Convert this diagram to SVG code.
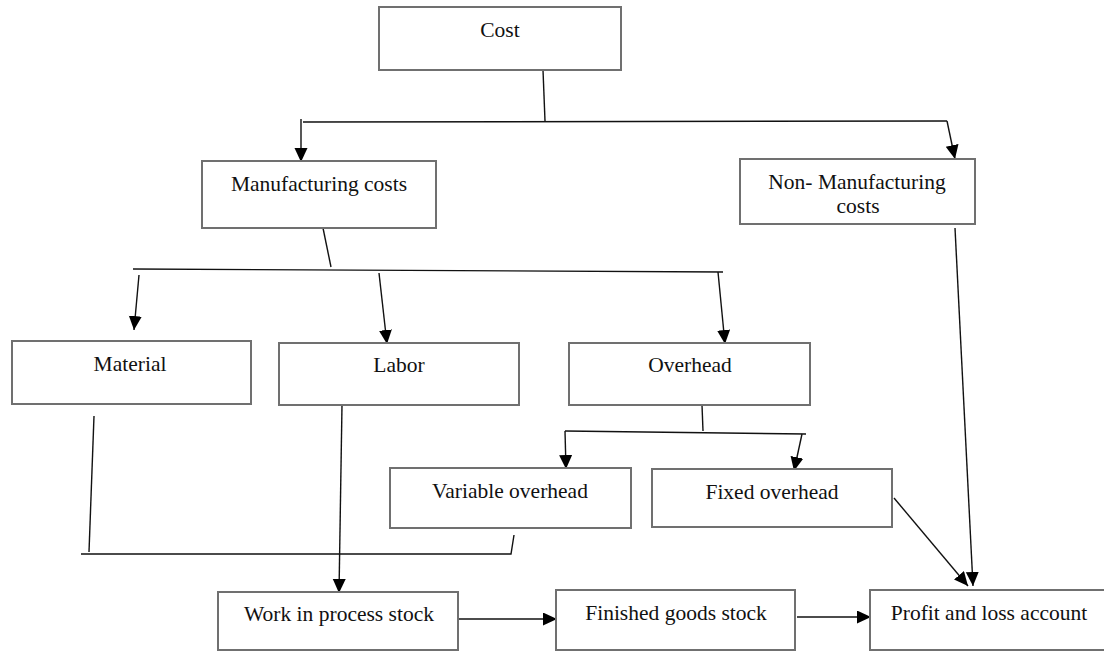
<svg xmlns="http://www.w3.org/2000/svg" width="1104" height="652" viewBox="0 0 1104 652">
<defs>
<style>
.box{fill:#fff;stroke:#707070;stroke-width:2}
.t{font-family:"Liberation Serif","Times New Roman",serif;font-size:21.5px;fill:#111;text-anchor:middle}
.c{fill:none;stroke:#111;stroke-width:1.4}
.a{fill:none;stroke:#111;stroke-width:1.4;marker-end:url(#ah)}
</style>
<marker id="ah" markerUnits="userSpaceOnUse" markerWidth="14" markerHeight="14" viewBox="0 0 14 14" refX="14" refY="6.5" orient="auto">
<path d="M0,0 L14,6.5 L0,13 Z" fill="#000"/>
</marker>
</defs>
<rect width="1104" height="652" fill="#fff"/>
<g id="connectors">
<path class="c" d="M543,70 L545,121"/>
<path class="c" d="M303,122 L947,121"/>
<path class="a" d="M301,119 L301,162"/>
<path class="a" d="M947,121 L955,159"/>
<path class="c" d="M323,228 L331,267"/>
<path class="c" d="M133,269 L723,272"/>
<path class="a" d="M139,275 L134,330"/>
<path class="a" d="M379,273 L387,344"/>
<path class="a" d="M718,272 L725,344"/>
<path class="c" d="M702,405 L703,431"/>
<path class="c" d="M565,431 L806,434"/>
<path class="a" d="M565,431 L566,469"/>
<path class="a" d="M802,434 L794,471"/>
<path class="c" d="M94,416 L89,552"/>
<path class="c" d="M81,554 L511,554 L514,535"/>
<path class="a" d="M342,405 L339,593"/>
<path class="a" d="M458,619 L557,619"/>
<path class="a" d="M797,617 L871,617"/>
<path class="a" d="M894,498 L968,586"/>
<path class="a" d="M955,228 L973,586"/>
</g>
<g id="cost"><rect class="box" x="379" y="7" width="242" height="63"/><text class="t" x="500" y="37">Cost</text></g>
<g id="manufacturing"><rect class="box" x="202" y="161" width="234" height="67"/><text class="t" x="319" y="191">Manufacturing costs</text></g>
<g id="nonmanufacturing"><rect class="box" x="740" y="159" width="235" height="65"/><text class="t" x="857" y="189">Non- Manufacturing</text><text class="t" x="858" y="213">costs</text></g>
<g id="material"><rect class="box" x="12" y="341" width="239" height="63"/><text class="t" x="130" y="371">Material</text></g>
<g id="labor"><rect class="box" x="279" y="343" width="240" height="62"/><text class="t" x="399" y="372">Labor</text></g>
<g id="overhead"><rect class="box" x="569" y="343" width="241" height="62"/><text class="t" x="690" y="372">Overhead</text></g>
<g id="variable"><rect class="box" x="390" y="468" width="241" height="60"/><text class="t" x="510" y="498">Variable overhead</text></g>
<g id="fixed"><rect class="box" x="652" y="469" width="240" height="58"/><text class="t" x="772" y="499">Fixed overhead</text></g>
<g id="wip"><rect class="box" x="218" y="592" width="240" height="58"/><text class="t" x="339" y="621">Work in process stock</text></g>
<g id="finished"><rect class="box" x="556" y="590" width="239" height="60"/><text class="t" x="676" y="620">Finished goods stock</text></g>
<g id="profit"><rect class="box" x="870" y="590" width="240" height="60"/><text class="t" x="989" y="620">Profit and loss account</text></g>
</svg>
